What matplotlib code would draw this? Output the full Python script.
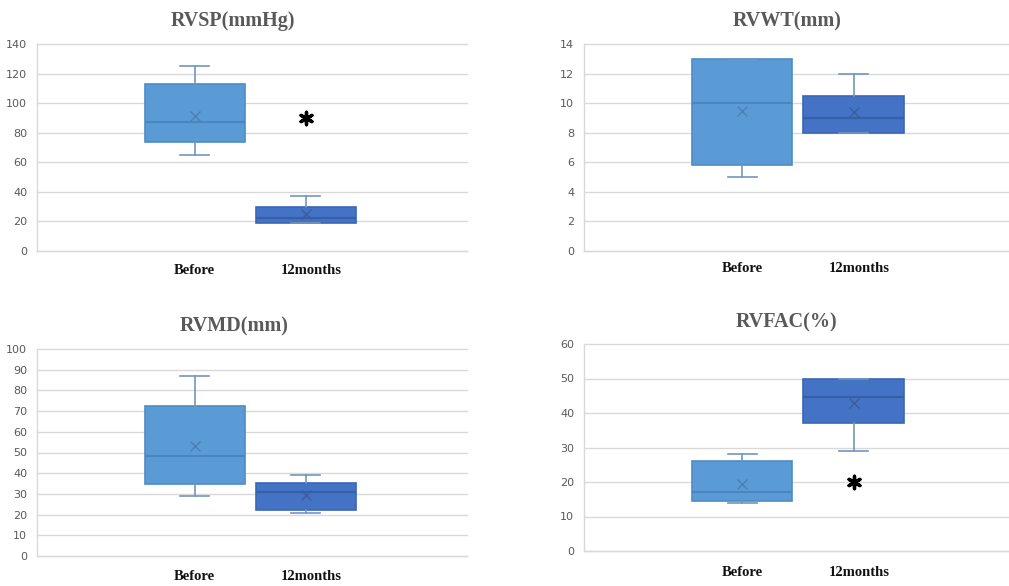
import matplotlib
matplotlib.use("Agg")
import matplotlib.pyplot as plt

W, H = 1009, 586
DPI = 100

groups = ["Before", "12months"]

titles = ["RVSP(mmHg)", "RVWT(mm)", "RVMD(mm)", "RVFAC(%)"]
ymax = [140, 14, 100, 60]
ystep = [20, 2, 10, 10]

# five-number summaries + mean, per panel: [Before, 12months]
whislo = [[65, 19], [5, 8], [29, 21], [14, 29]]
q1 = [[74, 19], [5.8, 8], [35, 22], [14.5, 37]]
med = [[87, 22.5], [10, 9], [48.5, 31], [17, 44.5]]
q3 = [[113, 30], [13, 10.5], [72.5, 35.5], [26, 50]]
whishi = [[125, 37], [13, 12], [87, 39], [28, 50]]
mean = [[91.5, 25], [9.5, 9.4], [53, 29.5], [19.5, 43]]

# significance asterisk values (None = no asterisk)
star_value = [90, None, None, 20]

fill_colors = ["#5B9BD5", "#4472C4"]
edge_colors = ["#4E8CC6", "#3B66B5"]
median_colors = ["#4A85BE", "#3560A8"]
mean_colors = ["#4A80B6", "#3A5E9E"]
whisker_color = "#7396BC"

fig = plt.figure(figsize=(W / DPI, H / DPI), dpi=DPI)

def px_axes(left, top, right, bottom):
    return [left / W, 1 - bottom / H, (right - left) / W, (bottom - top) / H]

axes_px = [
    (37, 44, 467, 251),
    (584, 44, 1015, 251),
    (37, 349, 467, 556),
    (584, 344, 1015, 551),
]
title_px = [(233, 21), (787, 21), (234, 326), (787, 322)]
label_dy = [19, 18, 21, 21]

for i in range(4):
    ax = fig.add_axes(px_axes(*axes_px[i]))
    stats = []
    for g in range(2):
        stats.append(dict(whislo=whislo[i][g], q1=q1[i][g], med=med[i][g],
                          q3=q3[i][g], whishi=whishi[i][g], mean=mean[i][g],
                          fliers=[], label=groups[g]))
    for g in range(2):
        ax.bxp([stats[g]], positions=[g + 1], widths=0.9, patch_artist=True,
               showmeans=True, showfliers=False,
               boxprops=dict(facecolor=fill_colors[g], edgecolor=edge_colors[g], linewidth=1.2),
               medianprops=dict(color=median_colors[g], linewidth=1.5),
               whiskerprops=dict(color=whisker_color, linewidth=1.2),
               capprops=dict(color=whisker_color, linewidth=1.2),
               capwidths=0.26,
               meanprops=dict(marker="x", markeredgecolor=mean_colors[g],
                              markersize=7, markeredgewidth=1.0),
               zorder=3)
    ax.set_xlim(-0.42, 3.45)
    ax.set_ylim(0, ymax[i])
    ticks = list(range(0, ymax[i] + 1, ystep[i]))
    ax.set_yticks(ticks)
    ax.set_xticks([])
    ax.grid(axis="y", color="#D9D9D9", linewidth=1.0, zorder=0)
    ax.set_axisbelow(True)
    for s in ["top", "right"]:
        ax.spines[s].set_visible(False)
    for s in ["left", "bottom"]:
        ax.spines[s].set_color("#D9D9D9")
        ax.spines[s].set_linewidth(1.0)
    ax.tick_params(axis="y", length=0, pad=7, labelsize=8, labelcolor="#595959")
    for gl in ax.get_ygridlines():
        gl.set_clip_on(False)

    if star_value[i] is not None:
        ax.scatter([2], [star_value[i]], marker=(6, 2, 0), s=80, color="black",
                   linewidths=2.4, zorder=5)

    # category labels
    trans = ax.get_xaxis_transform()
    for g, lbl in enumerate(groups):
        ax.annotate(lbl, xy=(g + 1 + (0.0 if g == 0 else 0.05), 0), xycoords=trans,
                    xytext=(0, -label_dy[i]), textcoords="offset pixels",
                    ha="center", va="center", fontsize=10.5, fontweight="bold",
                    family="Liberation Serif", color="#111111", annotation_clip=False)

    tx, ty = title_px[i]
    fig.text(tx / W, 1 - ty / H, titles[i], ha="center", va="center",
             fontsize=14.5, fontweight="bold", family="Liberation Serif", color="#595959")

fig.savefig("out.png", dpi=DPI)
